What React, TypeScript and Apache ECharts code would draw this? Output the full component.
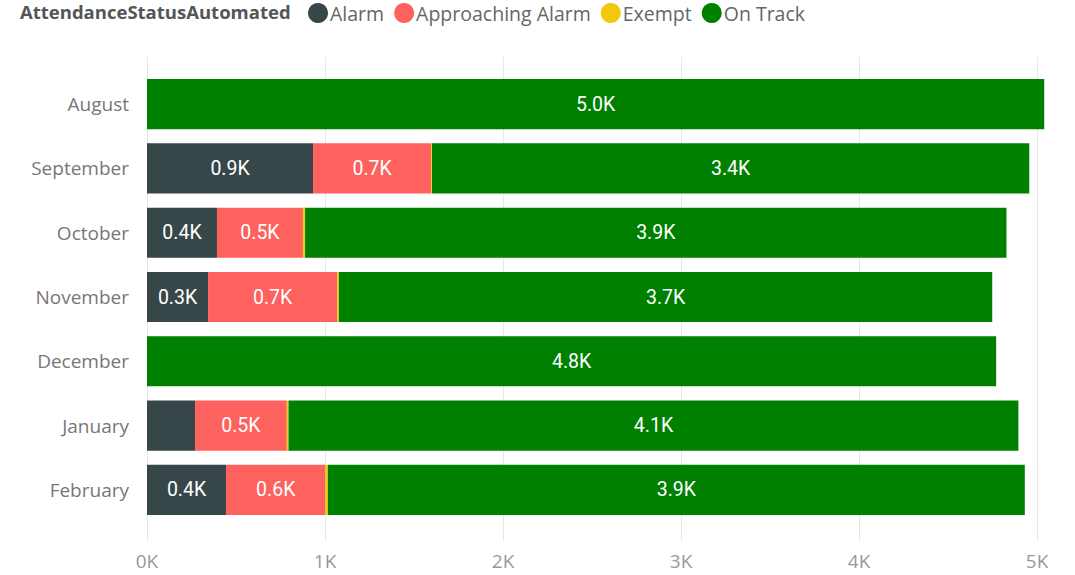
import React, { useEffect, useRef } from "react";
import * as echarts from "echarts";

const months = ["August", "September", "October", "November", "December", "January", "February"];
const alarm = [0, 933, 393, 343, 0, 270, 444];
const approaching = [0, 663, 483, 725, 0, 515, 558];
const exempt = [0, 5, 12, 10, 0, 10, 14];
const onTrack = [5040, 3355, 3940, 3670, 4770, 4100, 3915];
const xTicks = [0, 1000, 2000, 3000, 4000, 5000];

const seriesNames = ["Alarm", "Approaching Alarm", "Exempt", "On Track"];
const seriesColors = ["#374649", "#FD625E", "#F2C80F", "#008000"];

export default function App() {
  const ref = useRef<HTMLDivElement>(null);
  useEffect(() => {
    document.body.style.margin = "0";
    if (!ref.current) return;
    const chart = echarts.init(ref.current, undefined, { renderer: "svg" });
    const values = [alarm, approaching, exempt, onTrack];
    const fmt = (v: number) => (v / 1000).toFixed(0) + "K";
    chart.setOption({
      animation: false,
      textStyle: { fontFamily: "Open Sans" },
      graphic: [
        {
          type: "text",
          left: 20,
          top: 2,
          style: {
            text: "AttendanceStatusAutomated",
            fontFamily: "Open Sans",
            fontWeight: "bold",
            fontSize: 18.5,
            fill: "#555555",
          },
        },
      ],
      legend: {
        left: 308,
        top: 3,
        padding: 0,
        icon: "circle",
        itemWidth: 20,
        itemHeight: 20,
        itemGap: 10,
        textStyle: { fontFamily: "Open Sans", fontSize: 19.5, color: "#666666", padding: [0, 0, 0, -3] },
        data: seriesNames,
      },
      grid: [
        { left: 147, right: 29, top: 72, height: 450, containLabel: false },
        { left: 147, right: 29, top: 57, bottom: 34, containLabel: false },
      ],
      xAxis: [
        {
          type: "value",
          gridIndex: 0,
          min: 0,
          max: 5050,
          interval: 1000,
          axisLine: { show: false },
          axisTick: { show: false },
          axisLabel: { show: false },
          splitLine: { show: false },
        },
        {
          type: "value",
          gridIndex: 1,
          min: 0,
          max: 5050,
          interval: 1000,
          axisLine: { show: false },
          axisTick: { show: false },
          axisLabel: {
            margin: 10,
            fontFamily: "Open Sans",
            fontSize: 19,
            color: "#999999",
            showMaxLabel: false,
            formatter: (v: number) => (xTicks.includes(v) ? fmt(v) : ""),
          },
          splitLine: { show: true, showMaxLine: false, lineStyle: { color: "#e8e8e8", width: 1 } },
        },
      ],
      yAxis: [
        {
          type: "category",
          gridIndex: 0,
          inverse: true,
          data: months,
          axisLine: { show: false },
          axisTick: { show: false },
          axisLabel: { margin: 18, fontFamily: "Open Sans", fontSize: 19, color: "#777777" },
        },
        {
          type: "value",
          gridIndex: 1,
          min: 0,
          max: 1,
          show: false,
        },
      ],
      series: seriesNames.map((name, i) => ({
        name,
        type: "bar",
        stack: "total",
        xAxisIndex: 0,
        yAxisIndex: 0,
        barCategoryGap: "22%",
        itemStyle: { color: seriesColors[i] },
        data: values[i],
        label: {
          show: true,
          position: "inside",
          color: "#ffffff",
          fontFamily: "Roboto",
          fontSize: 19.5,
          formatter: (p: any) => (p.value >= 300 ? (p.value / 1000).toFixed(1) + "K" : ""),
        },
      })),
    });
    return () => chart.dispose();
  }, []);
  return <div ref={ref} style={{ width: 1075, height: 575 }} />;
}
